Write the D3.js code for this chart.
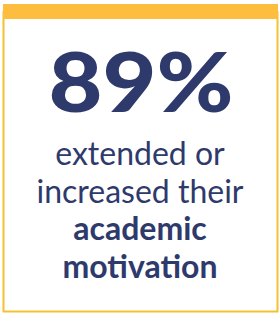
<!DOCTYPE html>
<html>
<head>
<meta charset="utf-8">
<script src="https://cdn.jsdelivr.net/npm/d3@7"></script>
<style>
  html, body { margin: 0; padding: 0; background: #fff; }
  svg { display: block; }
</style>
</head>
<body>
<svg id="card"></svg>
<script>
// card content
const statValue = 89;
const statSuffix = '%';
const captionLines = [
    { text: 'extended or', weight: 400 },
    { text: 'increased their', weight: 400 },
    { text: 'academic', weight: 700 },
    { text: 'motivation', weight: 700 }
];

const W = 279, H = 313;
const navy = '#2e3a6b';
const gold = '#fdbe40';
const frame = '#f3c232';

const svg = d3.select('#card').attr('width', W).attr('height', H);

// frame
svg.append('rect')
    .attr('x', 3.5).attr('y', 12).attr('width', 274).attr('height', 299.5)
    .attr('fill', '#fff').attr('stroke', frame).attr('stroke-width', 2);

// top band
svg.append('rect')
    .attr('x', 3).attr('y', 4).attr('width', 275).attr('height', 15)
    .attr('fill', gold);

// big number
svg.append('text')
    .attr('x', 141).attr('y', 112)
    .attr('text-anchor', 'middle')
    .attr('font-family', 'Lato, sans-serif')
    .attr('font-weight', 900)
    .attr('font-size', 82)
    .attr('fill', navy)
    .attr('textLength', 185)
    .attr('lengthAdjust', 'spacingAndGlyphs')
    .text(`${statValue}${statSuffix}`);

// caption
const lineY = d3.scaleLinear().domain([0, captionLines.length - 1]).range([165, 278]);

svg.selectAll('.cap')
    .data(captionLines)
    .join('text')
    .attr('class', 'cap')
    .attr('x', 140)
    .attr('y', (d, i) => lineY(i))
    .attr('text-anchor', 'middle')
    .attr('font-family', 'Lato, sans-serif')
    .attr('font-weight', d => d.weight)
    .attr('font-size', 32)
    .attr('fill', navy)
    .text(d => d.text);
</script>
</body>
</html>
